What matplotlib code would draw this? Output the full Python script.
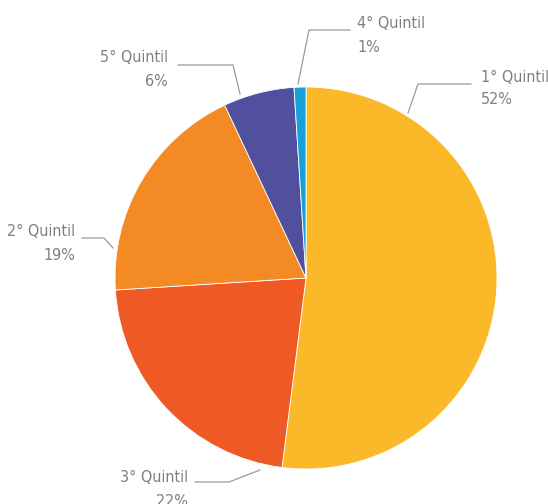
"""Pizza por quintil."""
import matplotlib
matplotlib.use("Agg")
import matplotlib.pyplot as plt

# dados
categorias = ["1° Quintil", "3° Quintil", "2° Quintil", "5° Quintil", "4° Quintil"]
valores = [52, 22, 19, 6, 1]
cores = ["#FBB829", "#EF5A24", "#F38A24", "#51509F", "#18A1D8"]

# layout dos rótulos (em pixels, origem no topo)
TXT = {
    "1° Quintil": (481, 77, "left"),
    "3° Quintil": (188, 478, "right"),
    "2° Quintil": (75, 232, "right"),
    "5° Quintil": (168, 58, "right"),
    "4° Quintil": (357, 24, "left"),
}
LEADERS = {
    "1° Quintil": [(408, 113), (418, 84), (471, 84)],
    "3° Quintil": [(260, 470), (229, 482), (195, 482)],
    "2° Quintil": [(113, 248), (104, 238), (82, 238)],
    "5° Quintil": [(240, 94), (233, 65), (178, 65)],
    "4° Quintil": [(298, 84), (309, 30), (350, 30)],
}

W, H = 548, 504
CINZA = "#7f7f7f"
plt.rcParams["font.family"] = ["DejaVu Sans"]
plt.rcParams["font.stretch"] = "condensed"

fig = plt.figure(figsize=(W / 100, H / 100), dpi=100)
ax = fig.add_axes([0, 0, 1, 1])

ax.pie(valores, colors=cores, startangle=90, counterclock=False,
       center=(306, H - 278), radius=191, frame=True,
       wedgeprops=dict(edgecolor="white", linewidth=0.6))
ax.set_xlim(0, W)
ax.set_ylim(0, H)
ax.set_aspect("equal")
ax.axis("off")

for cat, v in zip(categorias, valores):
    x, y, ha = TXT[cat]
    ax.text(x, H - y, cat, ha=ha, va="center", fontsize=11.5, color=CINZA,
            fontstretch="condensed")
    ax.text(x, H - y - 23, f"{v}%", ha=ha, va="center", fontsize=11.5, color=CINZA,
            fontstretch="condensed")
    pts = LEADERS[cat]
    ax.plot([p[0] for p in pts], [H - p[1] for p in pts], color="#9a9a9a", lw=0.9)

fig.savefig("out.png", dpi=100)
